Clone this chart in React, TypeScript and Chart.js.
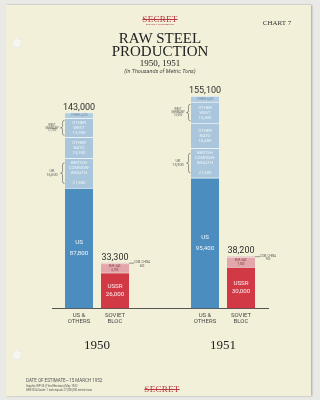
import React, { useEffect, useRef } from "react";
import { Chart, registerables } from "chart.js";

Chart.register(...registerables);

// ---------- data ----------
const years = ["1950", "1951"];
const westGroupLabel = ["US &", "OTHERS"];
const sovietGroupLabel = ["SOVIET", "BLOC"];

const usValues = [87800, 95400];
const commonwealthValues = [21800, 21500];
const otherNatoValues = [15300, 18400];
const otherWestValues = [13900, 15400];
const othersValues = [4200, 4400];
const ussrValues = [26000, 30000];
const eurSatValues = [6700, 7300];
const chinaValues = [600, 900];
const westGermanyValues = [12100, 13500];
const ukValues = [16600, 15900];

// ---------- category slots ----------
const SLOT_COUNT = 12;
const westSlots = [1, 8];
const sovietSlots = [3, 10];
const yearSlots = [2, 9];

const SANS = "Roboto, 'DejaVu Sans', sans-serif";
const SERIF = "'Liberation Serif', 'DejaVu Serif', serif";

const fmt = (v: number) => v.toLocaleString("en-US");

function place(values: number[], slots: number[]) {
  const arr: (number | null)[] = Array(SLOT_COUNT).fill(null);
  slots.forEach((s, i) => (arr[s] = values[i]));
  return arr;
}

const groupTickLabels = Array.from({ length: SLOT_COUNT }, (_, i) =>
  westSlots.includes(i) ? westGroupLabel : sovietSlots.includes(i) ? sovietGroupLabel : ""
);
const yearTickLabels = Array.from({ length: SLOT_COUNT }, (_, i) => {
  const k = yearSlots.indexOf(i);
  return k >= 0 ? years[k] : "";
});

const sum = (arrs: number[][], k: number) => arrs.reduce((a, arr) => a + arr[k], 0);
const westParts = [usValues, commonwealthValues, otherNatoValues, otherWestValues, othersValues];
const sovietParts = [ussrValues, eurSatValues, chinaValues];

const LIGHT_TEXT = "#eef3f7";
const SEP = "rgba(235,242,246,0.9)";

function makeDatasets() {
  const base = { barThickness: 28, borderSkipped: false, borderWidth: { top: 1, bottom: 0, left: 0, right: 0 } };
  return [
    { ...base, label: "US", data: place(usValues, westSlots), backgroundColor: "#4b8dbf", borderColor: SEP,
      seg: { lines: (v: string) => ["US", v], size: 6.2, lh: 11, color: "#f3f7fa" } },
    { ...base, label: "British Commonwealth", data: place(commonwealthValues, westSlots), backgroundColor: "#a9c6dc", borderColor: SEP,
      seg: { lines: (v: string) => ["BRITISH", "COMMON-", "WEALTH", "", v], size: 4.3, lh: 5, color: LIGHT_TEXT } },
    { ...base, label: "Other NATO", data: place(otherNatoValues, westSlots), backgroundColor: "#a9c6dc", borderColor: SEP,
      seg: { lines: (v: string) => ["OTHER", "NATO", v], size: 4.3, lh: 5, color: LIGHT_TEXT } },
    { ...base, label: "Other West", data: place(otherWestValues, westSlots), backgroundColor: "#a9c6dc", borderColor: SEP,
      seg: { lines: (v: string) => ["OTHER", "WEST", v], size: 4.3, lh: 5, color: LIGHT_TEXT } },
    { ...base, label: "Others", data: place(othersValues, westSlots), backgroundColor: "#b3cde0", borderColor: SEP,
      seg: { lines: (v: string) => ["OTHERS " + v], size: 2.6, lh: 3, color: "#6a8aa2" } },
    { ...base, label: "USSR", data: place(ussrValues, sovietSlots), backgroundColor: "#d13a45", borderColor: "#e6b0b3",
      seg: { lines: (v: string) => ["USSR", v], size: 6.2, lh: 8, color: "#fbeeee" } },
    { ...base, label: "Eur. Sat.", data: place(eurSatValues, sovietSlots), backgroundColor: "#e3a6aa", borderColor: "#efd0d0",
      seg: { lines: (v: string) => ["EUR. SAT.", v], size: 2.8, lh: 3.4, color: "#7a3438" } },
    { ...base, label: "Com. China", data: place(chinaValues, sovietSlots), backgroundColor: "#ead0cf", borderColor: "#ead0cf" },
  ];
}

const IDX_OTHER_WEST = 3;
const IDX_COMMONWEALTH = 1;
const IDX_CHINA = 7;

function drawBrace(ctx: CanvasRenderingContext2D, x: number, yTop: number, yBot: number) {
  const mid = (yTop + yBot) / 2;
  const w = 2;
  ctx.beginPath();
  ctx.moveTo(x + w, yTop);
  ctx.quadraticCurveTo(x, yTop, x, yTop + 2);
  ctx.lineTo(x, mid - 1.5);
  ctx.quadraticCurveTo(x, mid, x - w, mid);
  ctx.quadraticCurveTo(x, mid, x, mid + 1.5);
  ctx.lineTo(x, yBot - 2);
  ctx.quadraticCurveTo(x, yBot, x + w, yBot);
  ctx.stroke();
}

const annotationPlugin = {
  id: "steelAnnotations",
  afterDatasetsDraw(chart: any) {
    const { ctx, scales } = chart;
    const yScale = scales.y;
    const xScale = scales.x;
    ctx.save();
    ctx.textAlign = "center";
    ctx.textBaseline = "middle";

    // labels inside segments
    chart.data.datasets.forEach((ds: any, d: number) => {
      const spec = ds.seg;
      if (!spec) return;
      const meta = chart.getDatasetMeta(d);
      meta.data.forEach((el: any, idx: number) => {
        const v = ds.data[idx];
        if (v == null) return;
        const cy = (el.y + el.base) / 2;
        const lines: string[] = spec.lines(fmt(v));
        ctx.font = `${spec.size}px ${SANS}`;
        ctx.fillStyle = spec.color;
        lines.forEach((t, j) => {
          if (t) ctx.fillText(t, el.x, cy + (j - (lines.length - 1) / 2) * spec.lh);
        });
      });
    });

    const px = (v: number) => yScale.getPixelForValue(0) - yScale.getPixelForValue(v);

    years.forEach((_, k) => {
      // totals
      ctx.fillStyle = "#2e2e2e";
      ctx.font = `9px ${SANS}`;
      ctx.textBaseline = "bottom";
      const wt = sum(westParts, k);
      const st = sum(sovietParts, k);
      ctx.fillText(fmt(wt), xScale.getPixelForValue(westSlots[k]), yScale.getPixelForValue(wt) - 0.5);
      ctx.fillText(fmt(st), xScale.getPixelForValue(sovietSlots[k]), yScale.getPixelForValue(st) - 0.5);
      ctx.textBaseline = "middle";

      // braces: West Germany and UK
      ctx.strokeStyle = "#6b6b6b";
      ctx.lineWidth = 0.7;
      ctx.fillStyle = "#5a5a5a";
      const braces = [
        { ds: IDX_OTHER_WEST, value: westGermanyValues[k], lines: ["WEST", "GERMANY", fmt(westGermanyValues[k])], size: 2.8, lh: 2.8 },
        { ds: IDX_COMMONWEALTH, value: ukValues[k], lines: ["UK", fmt(ukValues[k])], size: 3.8, lh: 4.2 },
      ];
      braces.forEach((b) => {
        const el = chart.getDatasetMeta(b.ds).data[westSlots[k]];
        const left = el.x - el.width / 2;
        const cy = (el.y + el.base) / 2;
        const half = (px(b.value) * 0.9) / 2;
        drawBrace(ctx, left - 2.5, cy - half, cy + half);
        ctx.font = `${b.size}px ${SANS}`;
        b.lines.forEach((t, j) => ctx.fillText(t, left - 13, cy + (j - (b.lines.length - 1) / 2) * b.lh));
      });

      // Com. China leader
      const ce = chart.getDatasetMeta(IDX_CHINA).data[sovietSlots[k]];
      const right = ce.x + ce.width / 2;
      const cyc = (ce.y + ce.base) / 2;
      ctx.beginPath();
      ctx.moveTo(right, cyc);
      ctx.lineTo(right + 5, cyc);
      ctx.stroke();
      ctx.font = `2.8px ${SANS}`;
      ctx.fillText("COM. CHINA", right + 13, cyc - 0.5);
      ctx.fillText(fmt(chinaValues[k]), right + 13, cyc + 3);
    });
    ctx.restore();
  },
};

function T(props: { text: string; cy: number; size: number; cx?: number; left?: number; font?: string; color?: string; italic?: boolean; strike?: boolean; ls?: number; weight?: number }) {
  const { text, cy, size, cx = 160, left, font = SERIF, color = "#222", italic, strike, ls = 0, weight = 400 } = props;
  const style: React.CSSProperties = {
    position: "absolute",
    top: cy - size / 2,
    height: size,
    lineHeight: `${size}px`,
    fontSize: size,
    fontFamily: font,
    color,
    fontStyle: italic ? "italic" : "normal",
    fontWeight: weight,
    textDecoration: strike ? "line-through" : "none",
    letterSpacing: ls,
    whiteSpace: "nowrap",
  };
  if (left !== undefined) {
    style.left = left;
  } else {
    style.left = cx - 100;
    style.width = 200;
    style.textAlign = "center";
  }
  return <div style={style}>{text}</div>;
}

export default function App() {
  const ref = useRef<HTMLCanvasElement>(null);
  useEffect(() => {
    if (!ref.current) return;
    const chart = new Chart(ref.current, {
      type: "bar",
      data: { labels: groupTickLabels as any, datasets: makeDatasets() as any },
      options: {
        responsive: false,
        animation: false,
        layout: { padding: { left: 52, right: 52, top: 92, bottom: 38 } },
        plugins: { legend: { display: false }, tooltip: { enabled: false }, title: { display: false } },
        scales: {
          x: {
            type: "category",
            stacked: true,
            grid: { display: false, drawTicks: false },
            border: { display: true, color: "#555", width: 1 },
            ticks: { autoSkip: false, maxRotation: 0, padding: 4, color: "#4a4a4a", font: { family: SANS, size: 6, lineHeight: 1.0 } },
          },
          x2: {
            type: "category",
            position: "bottom",
            labels: yearTickLabels,
            grid: { display: false, drawTicks: false },
            border: { display: false },
            ticks: { autoSkip: false, maxRotation: 0, padding: 9, color: "#1e1e1e", font: { family: SERIF, size: 13 } },
          },
          y: { stacked: true, display: false, min: 0, max: 158000 },
        },
      } as any,
      plugins: [annotationPlugin],
    });
    return () => chart.destroy();
  }, []);

  return (
    <div style={{ position: "absolute", left: 0, top: 0, width: 320, height: 400, background: "#e9e9e6", overflow: "hidden" }}>
      <div style={{ position: "absolute", left: 6, top: 5, width: 305, height: 391, background: "#f3f0da", boxShadow: "1px 0 2px rgba(0,0,0,0.3)" }} />
      <div style={{ position: "absolute", left: 12, top: 38, width: 10, height: 10, borderRadius: 5, background: "#f6f5ee", boxShadow: "inset 0 0 1px rgba(0,0,0,0.15)" }} />
      <div style={{ position: "absolute", left: 12, top: 350, width: 10, height: 10, borderRadius: 5, background: "#f6f5ee", boxShadow: "inset 0 0 1px rgba(0,0,0,0.15)" }} />
      <canvas ref={ref} width={320} height={400} style={{ position: "absolute", left: 0, top: 0, width: 320, height: 400 }} />
      <T text="SECRET" cy={19} size={9} color="#b93a42" strike ls={0.3} />
      <T text="SECURITY INFORMATION" cy={25} size={2.5} color="#b93a42" font={SANS} />
      <T text="CHART 7" cy={23} size={7} cx={277} color="#333" />
      <T text="RAW STEEL" cy={38} size={15} color="#222" />
      <T text="PRODUCTION" cy={51} size={15} color="#222" />
      <T text="1950, 1951" cy={63} size={9} color="#222" />
      <T text="(In Thousands of Metric Tons)" cy={72} size={5.5} color="#444" font={SANS} italic />
      <T text="DATE OF ESTIMATE—15 MARCH 1952" cy={381} size={4.5} left={26} color="#555" font={SANS} />
      <T text="Graphic WP-35 (Third Revision) May 1952" cy={386} size={2.8} left={26} color="#555" font={SANS} />
      <T text="GR51034    Scale: 1 inch equals 27,000,000 metric tons" cy={390.5} size={2.8} left={26} color="#555" font={SANS} />
      <T text="SECRET" cy={389} size={9} cx={162} color="#b93a42" strike ls={0.3} />
    </div>
  );
}
